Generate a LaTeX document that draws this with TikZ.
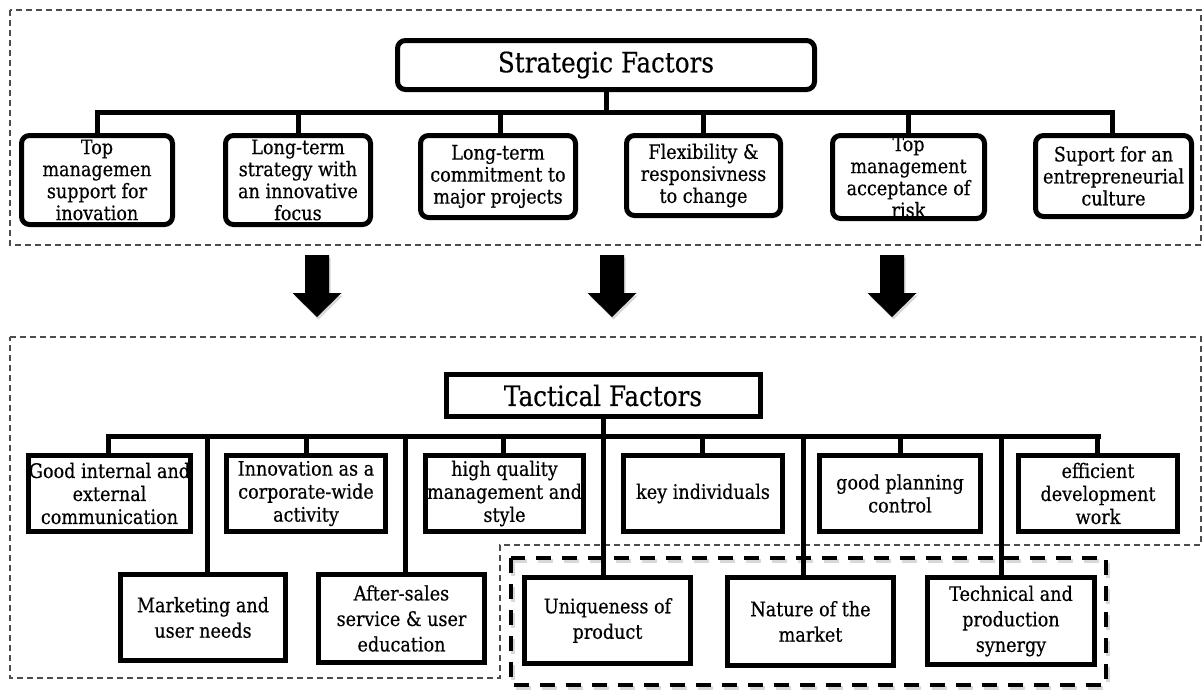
\documentclass[tikz,border=0pt]{standalone}
\usepackage{fontspec}
\setmainfont{DejaVu Serif}[FakeStretch=0.88, FakeBold=0.4]
\usetikzlibrary{calc}
\newcommand\bodytxt{\fontsize{20}{22}\selectfont}
\newcommand\tacttxt{\fontsize{20}{23}\selectfont}
\newcommand\lowtxt{\fontsize{20}{25.5}\selectfont}
\newcommand\titletxt{\fontsize{28}{30}\selectfont}
\tikzset{
  x=1pt, y=-1pt,
  frame/.style={draw=black!70, line width=1.1pt, dash pattern=on 6pt off 4pt},
  boldframe/.style={draw=black, line width=4pt, dash pattern=on 15pt off 11pt},
  conn/.style={line width=5pt, line cap=rect},
  sbox/.style={draw, line width=5pt, rounded corners=8pt, fill=white, align=center,
    inner sep=0pt, font=\bodytxt},
  tbox/.style={draw, line width=5pt, fill=white, align=center, inner sep=0pt,
    font=\tacttxt},
  lbox/.style={tbox, font=\lowtxt},
  downarrow/.style={fill=black},
}
\begin{document}
\begin{tikzpicture}
\useasboundingbox (0,0) rectangle (1204,691);
\fill[white] (0,0) rectangle (1204,691);

% ---------- frames ----------
\draw[frame] (10,10) rectangle (1201,245);
\draw[frame] (10,337) -- (1201,337) -- (1201,545) -- (500,545) -- (500,678) -- (10,678) -- cycle;
\draw[black!25, line width=4pt, dash pattern=on 15pt off 11pt, opacity=0.6]
  ([shift={(1.5,3)}]511,558) rectangle ([shift={(1.5,3)}]1106,685);
\draw[boldframe] (511,558) rectangle (1106,685);

% ---------- strategic level ----------
\node[sbox, font=\titletxt, minimum width=417, minimum height=49] (SF) at (606,65) {Strategic Factors};

\node[sbox, minimum width=151, minimum height=89] (S1) at (97,180) {Top\\managemen\\support for\\inovation};
\node[sbox, minimum width=145, minimum height=89] (S2) at (298,180) {Long-term\\strategy with\\an innovative\\focus};
\node[sbox, minimum width=155, minimum height=82] (S3) at (498,176.5) {Long-term\\commitment to\\major projects};
\node[sbox, minimum width=154, minimum height=80] (S4) at (703.5,175.5) {Flexibility \&\\responsivness\\to change};
\node[sbox, minimum width=152, minimum height=83] (S5) at (908.5,177) {Top\\management\\acceptance of\\risk};
\node[sbox, minimum width=156, minimum height=81] (S6) at (1113.5,176) {Suport for an\\entrepreneurial\\culture};

\coordinate (sbusL) at (97,112);
\coordinate (sbusR) at (1112,112);
\draw[conn] (SF.south) -- (SF.south |- sbusL);
\draw[conn] (sbusL) -- (sbusR);
\foreach \n/\xx in {S1/97,S2/298,S3/500,S4/703,S5/908,S6/1112}
  \draw[conn] (\xx,112) -- (\xx,0 |- \n.north);

% ---------- arrows between levels ----------
\foreach \cx in {317,612,892} {
  \fill[black!30, opacity=0.5, shift={(1.5,2.5)}]
    (\cx-12,255) -- (\cx+12,255) -- (\cx+12,293) -- (\cx+24.5,293) -- (\cx,317) -- (\cx-24.5,293) -- (\cx-12,293) -- cycle;
  \fill[downarrow]
    (\cx-12,255) -- (\cx+12,255) -- (\cx+12,293) -- (\cx+24.5,293) -- (\cx,317) -- (\cx-24.5,293) -- (\cx-12,293) -- cycle;
}

% ---------- tactical level ----------
\node[tbox, font=\titletxt, minimum width=314, minimum height=42] (TF) at (603,395.5) {Tactical Factors};

\coordinate (tbusL) at (108,436);
\coordinate (tbusR) at (1098,436);
\draw[conn] (tbusL) -- (tbusR);

\node[lbox, minimum width=165, minimum height=86] (B1) at (203,617.5) {Marketing and\\user needs};
\node[lbox, minimum width=166, minimum height=88] (B2) at (401.5,618.5) {After-sales\\service \& user\\education};
\node[lbox, minimum width=166, minimum height=86] (B3) at (607.5,620.5) {Uniqueness of\\product};
\node[lbox, minimum width=166, minimum height=88] (B4) at (810.5,621.5) {Nature of the\\market};
\node[lbox, minimum width=167, minimum height=87] (B5) at (1011,621) {Technical and\\production\\synergy};

\draw[conn] (TF.south) -- (TF.south |- B3.north);
\foreach \n/\xx in {B1/207,B2/405,B4/803,B5/1001}
  \draw[conn] (\xx,436) -- (\xx,0 |- \n.north);

\node[tbox, minimum width=160, minimum height=76] (T1) at (109.5,493.5) {Good internal and\\external\\communication};
\node[tbox, minimum width=159, minimum height=76] (T2) at (306,493.5) {Innovation as a\\corporate-wide\\activity};
\node[tbox, minimum width=158, minimum height=76] (T3) at (504.5,493.5) {high quality\\management and\\style};
\node[tbox, minimum width=159, minimum height=76] (T4) at (703,493.5) {key individuals};
\node[tbox, minimum width=161, minimum height=76] (T5) at (900,493.5) {good planning\\control};
\node[tbox, minimum width=159, minimum height=76] (T6) at (1098,493.5) {efficient\\development\\work};

\foreach \n/\xx in {T1/108,T2/306,T3/503,T4/702,T5/900,T6/1097}
  \draw[conn] (\xx,436) -- (\xx,0 |- \n.north);
\end{tikzpicture}
\end{document}
